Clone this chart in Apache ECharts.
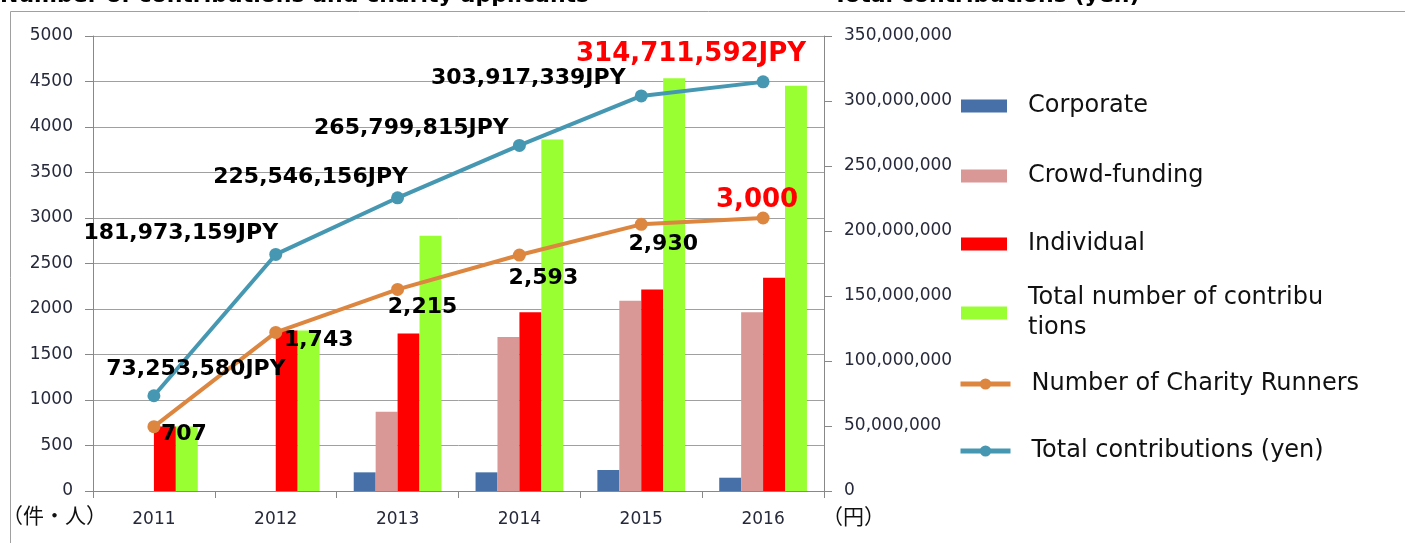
<!DOCTYPE html>
<html>
<head>
<meta charset="utf-8">
<script src="https://cdn.jsdelivr.net/npm/echarts@6/dist/echarts.min.js"></script>
<style>
  html, body { margin: 0; padding: 0; background: #fff; }
  #chart { width: 1405px; height: 543px; }
</style>
</head>
<body>
<div id="chart"></div>
<script>
// data
var years = ['2011', '2012', '2013', '2014', '2015', '2016'];
var corporate = [null, null, 205, 205, 231, 146];
var crowdFunding = [null, null, 870, 1692, 2091, 1963];
var individual = [710, 1765, 1730, 1965, 2215, 2344];
var totalNumber = [710, 1765, 2805, 3862, 4537, 4453];
var charityRunners = [707, 1743, 2215, 2593, 2930, 3000];
var totalYen = [73253580, 181973159, 225546156, 265799815, 303917339, 314711592];
var leftTicks = [0, 5000, 500];
var rightTicks = [0, 350000000, 50000000];

// label offsets (pixels from each point)
var runnerOffsets = [[30, 8], [43, 8], [25, 18], [24, 23], [22, 20], [-6, -18]];
var yenOffsets = [[42, -26], [-95, -21], [-87, -21], [-108, -17], [-113, -18], [-72, -28]];

var FONT = 'DejaVu Sans';
var AXIS_TEXT = '#25293a';

function comma(n) {
    return String(n).replace(/\B(?=(\d{3})+(?!\d))/g, ',');
}

function lineData(values, offsets) {
    var out = [];
    for (var i = 0; i < values.length; i++) {
        var last = i === values.length - 1;
        out.push({
            value: values[i],
            label: {
                offset: offsets[i],
                color: last ? '#ff0000' : '#000',
                fontSize: last ? 26 : 22
            }
        });
    }
    return out;
}

var chart = echarts.init(document.getElementById('chart'));

var names = ['Corporate', 'Crowd-funding', 'Individual', 'Total number of contributions',
    'Number of Charity Runners', 'Total contributions (yen)'];
var legendTops = [91, 161, 229, 283, 369, 436];
var legends = [];
for (var l = 0; l < names.length; l++) {
    var isLine = l >= 4;
    legends.push({
        data: [{ name: names[l], icon: isLine ? undefined : 'rect' }],
        left: isLine ? 958 : 961,
        top: legendTops[l],
        padding: 0,
        itemWidth: isLine ? 50 : 46,
        itemHeight: isLine ? 14 : 13,
        selectedMode: false,
        lineStyle: { width: 5 },
        formatter: function (name) {
            return name === 'Total number of contributions' ? 'Total number of contribu\ntions' : name;
        },
        textStyle: {
            fontFamily: FONT,
            fontSize: 24,
            color: '#111',
            lineHeight: 30,
            padding: [0, 0, 0, isLine ? 16 : 16]
        }
    });
}

var option = {
    animation: false,
    backgroundColor: '#fff',
    textStyle: { fontFamily: FONT },
    legend: legends,
    grid: {
        left: 93,
        right: 581,
        top: 36,
        bottom: 52
    },
    xAxis: {
        type: 'category',
        data: years,
        axisLine: { lineStyle: { color: '#888', width: 1 } },
        axisTick: { show: true, length: 7, lineStyle: { color: '#888' } },
        axisLabel: { color: AXIS_TEXT, fontSize: 17, margin: 20, fontFamily: FONT }
    },
    yAxis: [
        {
            type: 'value',
            min: leftTicks[0],
            max: leftTicks[1],
            interval: leftTicks[2],
            axisLine: { show: true, lineStyle: { color: '#888' } },
            axisTick: { show: true, length: 8, lineStyle: { color: '#888' } },
            splitLine: { lineStyle: { color: '#a0a0a0', width: 1 } },
            axisLabel: {
                color: AXIS_TEXT, fontSize: 17, margin: 20, fontFamily: FONT,
                formatter: function (v) { return String(v); }
            }
        },
        {
            type: 'value',
            min: rightTicks[0],
            max: rightTicks[1],
            interval: rightTicks[2],
            position: 'right',
            axisLine: { show: true, lineStyle: { color: '#888' } },
            axisTick: { show: true, length: 8, lineStyle: { color: '#888' } },
            splitLine: { show: false },
            axisLabel: {
                color: AXIS_TEXT, fontSize: 17, margin: 20, fontFamily: FONT,
                formatter: function (v) { return comma(v); }
            }
        }
    ],
    series: [
        { name: names[0], type: 'bar', data: corporate, itemStyle: { color: '#4670a7' },
          barGap: '0%', barCategoryGap: '28%' },
        { name: names[1], type: 'bar', data: crowdFunding, itemStyle: { color: '#d99795' } },
        { name: names[2], type: 'bar', data: individual, itemStyle: { color: '#ff0000' } },
        { name: names[3], type: 'bar', data: totalNumber, itemStyle: { color: '#99ff33' } },
        {
            name: names[4], type: 'line', yAxisIndex: 0, z: 5,
            data: lineData(charityRunners, runnerOffsets),
            symbol: 'circle', symbolSize: 13,
            lineStyle: { color: '#dd8640', width: 4 },
            itemStyle: { color: '#dd8640' },
            label: {
                show: true, position: 'inside', fontWeight: 'bold', fontFamily: FONT,
                formatter: function (p) { return comma(p.value); }
            }
        },
        {
            name: names[5], type: 'line', yAxisIndex: 1, z: 5,
            data: lineData(totalYen, yenOffsets),
            symbol: 'circle', symbolSize: 13,
            lineStyle: { color: '#4698b2', width: 4 },
            itemStyle: { color: '#4698b2' },
            label: {
                show: true, position: 'inside', fontWeight: 'bold', fontFamily: FONT,
                formatter: function (p) { return comma(p.value) + 'JPY'; }
            }
        }
    ],
    graphic: [
        {
            type: 'rect', silent: true, z: -1,
            shape: { x: 10.5, y: 11.5, width: 1420, height: 560 },
            style: { fill: null, stroke: '#a0a0a0', lineWidth: 1 }
        },
        {
            type: 'text', left: 0, top: -15,
            style: { text: 'Number of contributions and charity applicants', font: 'bold 22px "DejaVu Sans"', fill: '#000' }
        },
        {
            type: 'text', left: 833, top: -15,
            style: { text: 'Total contributions (yen)', font: 'bold 22px "DejaVu Sans"', fill: '#000' }
        },
        {
            type: 'text', left: 2, top: 505,
            style: { text: '（件・人）', font: '21px "Noto Sans CJK JP"', fill: '#111' }
        },
        {
            type: 'text', left: 822, top: 506,
            style: { text: '（円）', font: '21px "Noto Sans CJK JP"', fill: '#111' }
        }
    ]
};

chart.setOption(option);
</script>
</body>
</html>
